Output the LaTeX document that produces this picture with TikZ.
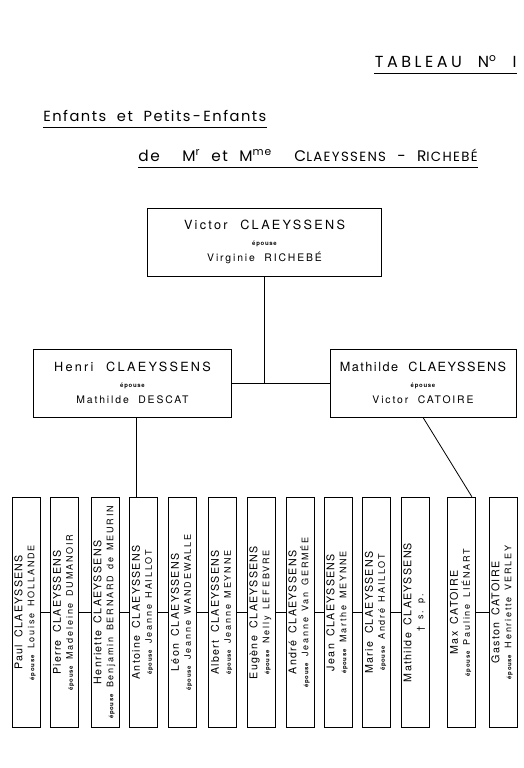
\documentclass[tikz,border=0pt]{standalone}
\usepackage{fontspec}
\usepackage{graphicx}
\setmainfont{TeX Gyre Heros}[LetterSpace=12,WordSpace=1.8]
\newfontfamily\titrefont{Poppins}[LetterSpace=10,WordSpace=2]
\newfontfamily\coupfont{TeX Gyre Heros}[LetterSpace=18,WordSpace=2]
\newfontfamily\espfont{TeX Gyre Heros}[LetterSpace=20,WordSpace=1.5]
\newcommand{\ep}{{\rmfamily\fontsize{4.5}{4.5}\selectfont\bfseries épouse}\ }
\newcommand{\enfant}[2]{\rotatebox{90}{\fontsize{8}{9}\selectfont\begin{tabular}{@{}c@{}}#1\\{\espfont\fontsize{6.8}{9}\selectfont #2}\end{tabular}}}
\newcommand{\petit}{\coupfont\fontsize{7.8}{12}\selectfont}

\begin{document}
\begin{tikzpicture}[x=0.75pt,y=-0.75pt,line width=0.6pt,
  couple/.style={draw, minimum height=51pt, inner sep=0pt, align=center, font=\coupfont\fontsize{9.5}{12}\selectfont},
  enfant/.style={draw, minimum width=21pt, minimum height=173pt, inner sep=0pt}]
\useasboundingbox (0,0) rectangle (524,768);

% titres
\node[anchor=base east, inner sep=0pt, font=\titrefont\fontsize{12}{12}\selectfont\addfontfeature{LetterSpace=22}] (tableau) at (517,67) {TABLEAU\quad N\textsuperscript{o}\quad I};
\draw ([yshift=-4.5pt]tableau.base west) -- ([yshift=-4.5pt]tableau.base east);
\node[anchor=base west, inner sep=0pt, font=\titrefont\fontsize{11}{12}\selectfont] (titre) at (43,121) {Enfants\ et\ Petits\,-\,Enfants};
\draw ([yshift=-4.5pt]titre.base west) -- ([yshift=-4.5pt]titre.base east);
\node[anchor=base west, inner sep=0pt, font=\titrefont\fontsize{11.5}{12}\selectfont] (sstitre) at (138,161) {de\ \ M\textsuperscript{r} et M\textsuperscript{me}\ \ C{\fontsize{10}{12}\selectfont LAEYSSENS}\ -\ R{\fontsize{10}{12}\selectfont ICHEBÉ}};
\draw ([yshift=-4.5pt]sstitre.base west) -- ([yshift=-4.5pt]sstitre.base east);

% parents
\node[couple, minimum width=176pt] (victor) at (264.5,242) {Victor\quad CLAEYSSENS\\\ep\\{\petit Virginie\ RICHEBÉ}};
\node[couple, minimum width=148pt] (henri) at (132.5,383) {Henri\quad CLAEYSSENS\\\ep\\{\petit Mathilde\ DESCAT}};
\node[couple, minimum width=139.5pt] (mathilde) at (423,383) {{\addfontfeature{LetterSpace=12}Mathilde CLAEYSSENS}\\\ep\\{\petit Victor\ CATOIRE}};

% petits-enfants
\foreach \i/\x/\n/\s in {1/26/Paul CLAEYSSENS/\ep Louise HOLLANDE,
  2/64.5/Pierre CLAEYSSENS/\ep Madeleine DUMANOIR,
  3/105/Henriette CLAEYSSENS/\ep Benjamin BERNARD de MEURIN,
  4/143.5/Antoine CLAEYSSENS/\ep Jeanne HAILLOT,
  5/182.5/Léon CLAEYSSENS/\ep Jeanne WANDEWALLE,
  6/222.5/Albert CLAEYSSENS/\ep Jeanne MEYNNE,
  7/261/Eugène CLAEYSSENS/\ep Nelly LEFEBVRE,
  8/300/André CLAEYSSENS/\ep Jeanne Van GERMÉE,
  9/338/Jean CLAEYSSENS/\ep Marthe MEYNNE,
  10/376.5/Marie CLAEYSSENS/\ep André HAILLOT,
  11/415/Mathilde CLAEYSSENS/† s. p.,
  12/461.5/Max CATOIRE/\ep Pauline LIÉNART,
  13/503/Gaston CATOIRE/\ep Henriette VERLEY}
  \node[enfant] (c\i) at (\x,612.5) {\enfant{\n}{\s}};

% liens
\draw (victor.south) -- (victor.south |- henri.east);
\draw (henri.east) -- (mathilde.west);
\draw ([xshift=-5pt]c4.north) -- ([xshift=-5pt]c4.north |- henri.south);
\draw (mathilde.south) -- ([xshift=-3pt]c12.north east);
\foreach \a/\b in {1/2,2/3,3/4,4/5,5/6,6/7,7/8,8/9,9/10,10/11,12/13}
  \draw (c\a) -- (c\b);
\end{tikzpicture}
\end{document}
